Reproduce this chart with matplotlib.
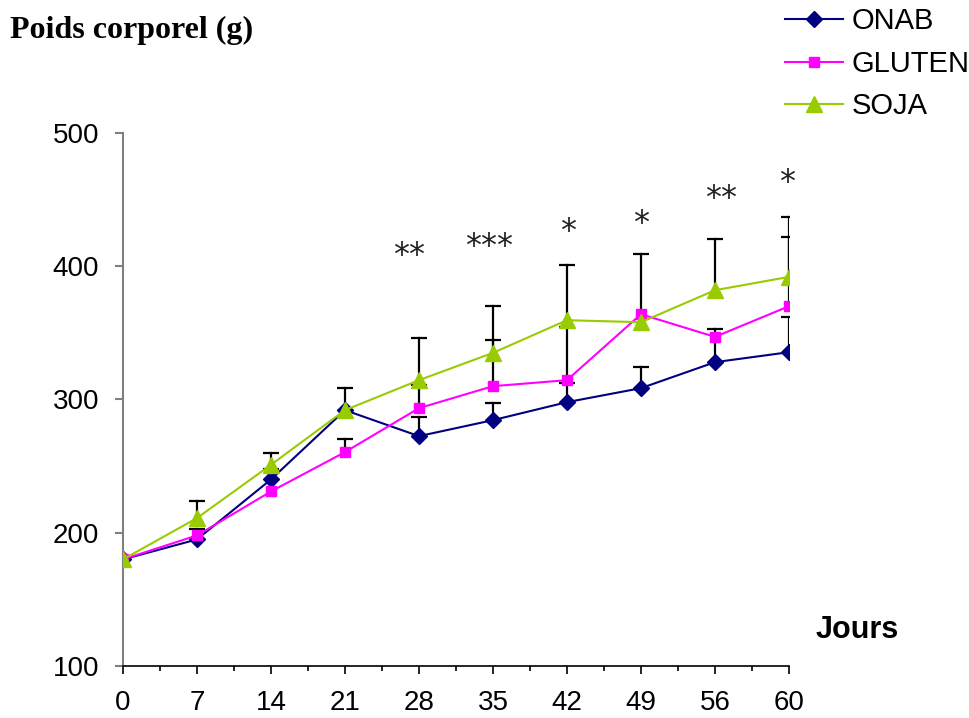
import numpy as np
import matplotlib.pyplot as plt
from matplotlib.ticker import FixedLocator

jours = ["0", "7", "14", "21", "28", "35", "42", "49", "56", "60"]

onab = [180, 195, 240, 292, 272.5, 284.5, 298, 308.5, 328, 335.5]
gluten = [180, 198, 231, 260.5, 293.5, 310, 314.5, 364, 347, 370]
soja = [180, 211, 251, 292, 314.5, 335, 359.5, 358, 382, 392]

onab_err = [0, 8, 8, 16.5, 14.5, 13, 14.5, 16, 25, 26.5]
gluten_err = [0, 0, 0, 9.5, 17.5, 35, 40, 45.5, 0, 52]
soja_err = [0, 13, 9, 0, 31.5, 35, 41.5, 0, 38.5, 45]

# significance marks (placed by hand above the days 28..60)
stars = ["**", "***", "*", "*", "**", "*"]
stars_x = [3.87, 4.95, 6.02, 7.0, 8.08, 8.97]
stars_y = [408, 415, 426, 432, 451, 463]

plt.rcParams['font.family'] = ['Liberation Sans', 'DejaVu Sans']

fig = plt.figure(figsize=(9.69, 7.18), dpi=100)
ax = fig.add_axes([0.1269, 0.0724, 0.6873, 0.7424])

x = np.arange(len(jours))

# error bars (upper only)
for vals, errs in [(onab, onab_err), (gluten, gluten_err), (soja, soja_err)]:
    for xi, v, e in zip(x, vals, errs):
        if e > 0:
            ax.plot([xi, xi], [v, v + e], color='black', lw=1.6, zorder=2)
            ax.plot([xi], [v + e], marker='_', ms=12, mew=1.6, color='black', zorder=2)

l1, = ax.plot(x, onab, color='#000080', lw=1.5, marker='D', ms=8, zorder=3, label='ONAB')
l2, = ax.plot(x, gluten, color='#FF00FF', lw=1.5, marker='s', ms=7.5, zorder=3, label='GLUTEN')
l3, = ax.plot(x, soja, color='#99CC00', lw=1.5, marker='^', ms=11, zorder=3, label='SOJA')

for sx, s, sy in zip(stars_x, stars, stars_y):
    ax.text(sx, sy, s, ha='center', va='center', fontsize=23,
            family='DejaVu Sans', color='#222222')

ax.set_xlim(0, 9)
ax.set_ylim(100, 500)
ax.set_xticks(x)
ax.set_xticklabels(jours)
ax.xaxis.set_minor_locator(FixedLocator(x[:-1] + 0.5))
ax.set_yticks([100, 200, 300, 400, 500])

ax.spines['top'].set_visible(False)
ax.spines['right'].set_visible(False)
ax.spines['left'].set_color('#808080')
ax.spines['left'].set_linewidth(1.5)
ax.spines['bottom'].set_color('black')
ax.spines['bottom'].set_linewidth(1.2)

ax.tick_params(axis='x', which='major', direction='out', length=6, width=1.2,
               labelsize=20, pad=11, colors='black')
ax.tick_params(axis='x', which='minor', direction='out', length=3.5, width=1.2)
ax.tick_params(axis='y', direction='out', length=6, width=1.5, color='#808080',
               labelsize=20, pad=11, labelcolor='black')
ax.yaxis.get_major_ticks()[0].tick1line.set_color('black')

fig.text(0.01, 0.958, "Poids corporel (g)", fontsize=23, fontweight='bold',
         family='Liberation Serif', ha='left', va='center')
fig.text(0.842, 0.122, "Jours", fontsize=22, fontweight='bold', ha='left', va='center')

fig.legend(handles=[l1, l2, l3], loc='upper left', bbox_to_anchor=(0.81, 0.99),
           frameon=False, fontsize=21, handlelength=2.0, handletextpad=0.3,
           labelspacing=0.5, borderpad=0, borderaxespad=0)

fig.savefig('out.png', dpi=100)
